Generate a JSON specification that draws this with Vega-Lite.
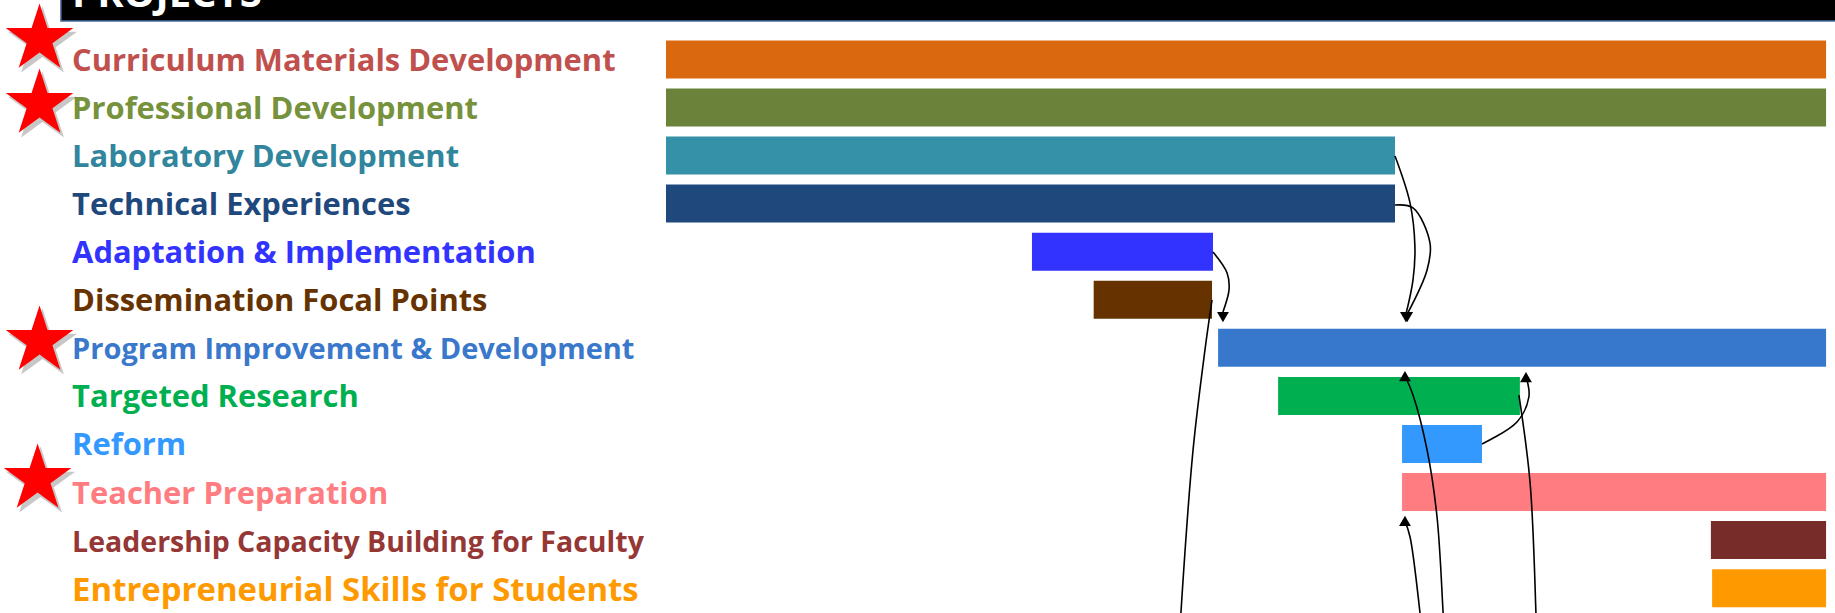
{
  "$schema": "https://vega.github.io/schema/vega-lite/v6.json",
  "width": 1835,
  "height": 613,
  "autosize": {"type": "fit", "contains": "padding"},
  "padding": 0,
  "background": "white",
  "config": {"view": {"stroke": null}},
  "datasets": {
    "projects": [
      {"project": "Curriculum Materials Development", "start": 0, "end": 47.74},
      {"project": "Professional Development", "start": 0, "end": 47.74},
      {"project": "Laboratory Development", "start": 0, "end": 30.0},
      {"project": "Technical Experiences", "start": 0, "end": 30.0},
      {"project": "Adaptation & Implementation", "start": 15.06, "end": 22.51},
      {"project": "Dissemination Focal Points", "start": 17.6, "end": 22.47},
      {"project": "Program Improvement & Development", "start": 22.72, "end": 47.74},
      {"project": "Targeted Research", "start": 25.19, "end": 35.14},
      {"project": "Reform", "start": 30.29, "end": 33.58},
      {"project": "Teacher Preparation", "start": 30.29, "end": 47.74},
      {"project": "Leadership Capacity Building for Faculty", "start": 43.0, "end": 47.74},
      {"project": "Entrepreneurial Skills for Students", "start": 43.05, "end": 47.74}
    ],
    "stars": [
      {"project": "Curriculum Materials Development", "x": -25.78, "row": -0.424},
      {"project": "Professional Development", "x": -25.78, "row": 0.928},
      {"project": "Program Improvement & Development", "x": -25.78, "row": 5.858},
      {"project": "Teacher Preparation", "x": -25.86, "row": 8.729}
    ],
    "links": [
      {"arrow": "a1", "x": 30.0, "row": 2.01},
      {"arrow": "a1", "x": 30.62, "row": 2.99},
      {"arrow": "a1", "x": 30.82, "row": 3.9},
      {"arrow": "a1", "x": 30.74, "row": 4.59},
      {"arrow": "a1", "x": 30.45, "row": 5.3},
      {"arrow": "a2", "x": 30.0, "row": 3.03},
      {"arrow": "a2", "x": 30.74, "row": 3.09},
      {"arrow": "a2", "x": 31.44, "row": 3.82},
      {"arrow": "a2", "x": 31.32, "row": 4.38},
      {"arrow": "a2", "x": 30.5, "row": 5.3},
      {"arrow": "a3", "x": 22.51, "row": 4.007},
      {"arrow": "a3", "x": 23.09, "row": 4.443},
      {"arrow": "a3", "x": 23.17, "row": 4.796},
      {"arrow": "a3", "x": 22.92, "row": 5.255},
      {"arrow": "a4", "x": 22.47, "row": 5.005},
      {"arrow": "a4", "x": 22.18, "row": 6.045},
      {"arrow": "a4", "x": 21.69, "row": 8.125},
      {"arrow": "a4", "x": 21.19, "row": 11.517},
      {"arrow": "a4", "x": 21.11, "row": 12.28},
      {"arrow": "a5", "x": 30.41, "row": 6.587},
      {"arrow": "a5", "x": 30.74, "row": 6.982},
      {"arrow": "a5", "x": 31.32, "row": 8.125},
      {"arrow": "a5", "x": 31.73, "row": 9.52},
      {"arrow": "a5", "x": 31.98, "row": 11.517},
      {"arrow": "a5", "x": 32.06, "row": 12.28},
      {"arrow": "a6", "x": 30.41, "row": 9.603},
      {"arrow": "a6", "x": 30.62, "row": 9.935},
      {"arrow": "a6", "x": 31.03, "row": 11.517},
      {"arrow": "a6", "x": 31.19, "row": 12.28},
      {"arrow": "a7", "x": 33.58, "row": 8.0},
      {"arrow": "a7", "x": 35.02, "row": 7.543},
      {"arrow": "a7", "x": 35.51, "row": 7.022},
      {"arrow": "a7", "x": 35.43, "row": 6.669},
      {"arrow": "a8", "x": 35.1, "row": 6.982},
      {"arrow": "a8", "x": 35.56, "row": 8.812},
      {"arrow": "a8", "x": 35.8, "row": 11.517},
      {"arrow": "a8", "x": 35.84, "row": 12.28}
    ],
    "heads": [
      {"arrow": "a1", "x": 30.45, "row": 5.36, "dir": "down"},
      {"arrow": "a2", "x": 30.5, "row": 5.36, "dir": "down"},
      {"arrow": "a3", "x": 22.92, "row": 5.36, "dir": "down"},
      {"arrow": "a5", "x": 30.41, "row": 6.59, "dir": "up"},
      {"arrow": "a6", "x": 30.41, "row": 9.6, "dir": "up"},
      {"arrow": "a7", "x": 35.39, "row": 6.61, "dir": "up"}
    ]
  },
  "layer": [
    {
      "data": {"name": "projects"},
      "encoding": {
        "y": {
          "field": "project", "type": "nominal", "axis": null,
          "scale": {
            "domain": ["Curriculum Materials Development", "Professional Development", "Laboratory Development", "Technical Experiences", "Adaptation & Implementation", "Dissemination Focal Points", "Program Improvement & Development", "Targeted Research", "Reform", "Teacher Preparation", "Leadership Capacity Building for Faculty", "Entrepreneurial Skills for Students"],
            "paddingInner": 0.2095, "paddingOuter": 0.4809, "align": 0.874
          }
        }
      },
      "layer": [
        {
          "mark": {"type": "bar", "clip": true},
          "encoding": {
            "x": {"field": "start", "type": "quantitative", "scale": {"domain": [-27.407, 48.107], "nice": false, "zero": false}, "axis": null},
            "x2": {"field": "end"},
            "color": {
              "field": "project", "type": "nominal", "legend": null,
              "scale": {
                "domain": ["Curriculum Materials Development", "Professional Development", "Laboratory Development", "Technical Experiences", "Adaptation & Implementation", "Dissemination Focal Points", "Program Improvement & Development", "Targeted Research", "Reform", "Teacher Preparation", "Leadership Capacity Building for Faculty", "Entrepreneurial Skills for Students"],
                "range": ["#D9680E", "#6B823A", "#3591A8", "#1F487C", "#3333FF", "#663300", "#3777CC", "#00AF50", "#3399FF", "#FF7C80", "#772C29", "#FF9900"]
              }
            }
          }
        },
        {
          "encoding": {
            "x": {"datum": -24.44, "type": "quantitative"},
            "text": {"field": "project"},
            "fill": {
              "field": "project", "type": "nominal", "legend": null,
              "scale": {
                "domain": ["Curriculum Materials Development", "Professional Development", "Laboratory Development", "Technical Experiences", "Adaptation & Implementation", "Dissemination Focal Points", "Program Improvement & Development", "Targeted Research", "Reform", "Teacher Preparation", "Leadership Capacity Building for Faculty", "Entrepreneurial Skills for Students"],
                "range": ["#C0504D", "#76923C", "#31859C", "#1F497D", "#3333FF", "#663300", "#3A78CC", "#00B050", "#3399FF", "#FF7C80", "#953735", "#FF9900"]
              }
            }
          },
          "layer": [
            {
              "transform": [{"filter": "datum.project !== 'Program Improvement & Development' && datum.project !== 'Leadership Capacity Building for Faculty' && datum.project !== 'Entrepreneurial Skills for Students'"}],
              "mark": {"type": "text", "align": "left", "baseline": "middle", "font": "Open Sans", "fontWeight": "bold", "fontSize": 30.9, "dy": 2.5}
            },
            {
              "transform": [{"filter": "datum.project === 'Program Improvement & Development'"}],
              "mark": {"type": "text", "align": "left", "baseline": "middle", "font": "Open Sans", "fontWeight": "bold", "fontSize": 29, "dy": 2.5}
            },
            {
              "transform": [{"filter": "datum.project === 'Leadership Capacity Building for Faculty'"}],
              "mark": {"type": "text", "align": "left", "baseline": "middle", "font": "Open Sans", "fontWeight": "bold", "fontSize": 28.5, "dy": 2.5}
            },
            {
              "transform": [{"filter": "datum.project === 'Entrepreneurial Skills for Students'"}],
              "mark": {"type": "text", "align": "left", "baseline": "middle", "font": "Open Sans", "fontWeight": "bold", "fontSize": 32.9, "dy": 2.5}
            }
          ]
        }
      ]
    },
    {
      "layer": [
        {
          "data": {"values": [{"header": "PROJECTS"}]},
          "mark": {"type": "rect", "color": "#000000", "stroke": "#4A6FA5", "strokeWidth": 1.5, "clip": true},
          "encoding": {
            "x": {"datum": -24.9, "type": "quantitative"},
            "x2": {"datum": 48.3},
            "y": {"datum": -1.4, "type": "quantitative", "scale": {"domain": [-1.2357, 11.517], "reverse": true, "nice": false, "zero": false}, "axis": null},
            "y2": {"datum": -0.799}
          }
        },
        {
          "data": {"values": [{"header": "PROJECTS"}]},
          "mark": {"type": "text", "align": "left", "baseline": "alphabetic", "font": "Open Sans", "fontWeight": "bold", "fontSize": 40, "color": "#FFFFFF", "clip": true},
          "encoding": {
            "x": {"datum": -24.44, "type": "quantitative"},
            "y": {"datum": -1.084, "type": "quantitative"},
            "text": {"field": "header"}
          }
        },
        {
          "data": {"name": "stars"},
          "mark": {"type": "point", "shape": "M0,-1L0.225,-0.309L0.951,-0.309L0.363,0.118L0.588,0.809L0,0.382L-0.588,0.809L-0.363,0.118L-0.951,-0.309L-0.225,-0.309Z", "filled": true, "color": "#000000", "opacity": 0.22, "size": 5300, "xOffset": 3, "yOffset": 4},
          "encoding": {
            "x": {"field": "x", "type": "quantitative"},
            "y": {"field": "row", "type": "quantitative"}
          }
        },
        {
          "data": {"name": "stars"},
          "mark": {"type": "point", "shape": "M0,-1L0.225,-0.309L0.951,-0.309L0.363,0.118L0.588,0.809L0,0.382L-0.588,0.809L-0.363,0.118L-0.951,-0.309L-0.225,-0.309Z", "filled": true, "color": "#FF0000", "opacity": 1, "size": 5041},
          "encoding": {
            "x": {"field": "x", "type": "quantitative"},
            "y": {"field": "row", "type": "quantitative"}
          }
        },
        {
          "data": {"name": "links"},
          "mark": {"type": "line", "interpolate": "catmull-rom", "color": "#000000", "strokeWidth": 1.6, "clip": true},
          "encoding": {
            "x": {"field": "x", "type": "quantitative"},
            "y": {"field": "row", "type": "quantitative"},
            "detail": {"field": "arrow"},
            "order": {"value": null}
          }
        },
        {
          "data": {"name": "heads"},
          "mark": {"type": "point", "filled": true, "color": "#000000", "opacity": 1, "size": 140},
          "encoding": {
            "x": {"field": "x", "type": "quantitative"},
            "y": {"field": "row", "type": "quantitative"},
            "shape": {"field": "dir", "type": "nominal", "legend": null, "scale": {"domain": ["down", "up"], "range": ["triangle-down", "triangle-up"]}}
          }
        }
      ]
    }
  ],
  "resolve": {"scale": {"y": "independent"}}
}
